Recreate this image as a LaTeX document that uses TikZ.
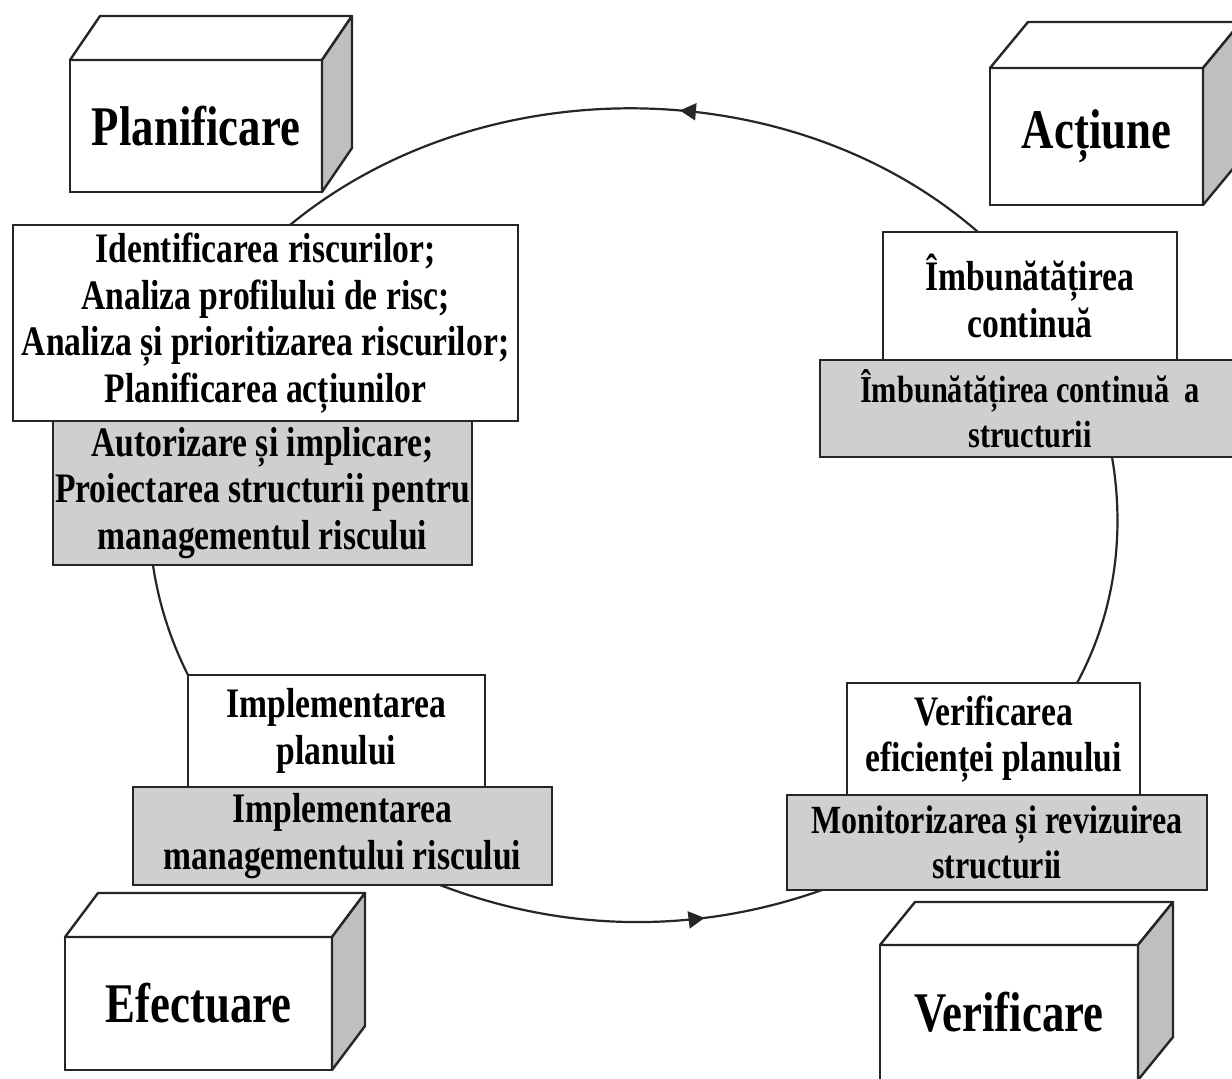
\documentclass[tikz,border=0pt]{standalone}
\usepackage{fontspec}
\setmainfont{Liberation Serif}[FakeStretch=0.8]
\usetikzlibrary{arrows.meta,decorations.markings}

\begin{document}
\begin{tikzpicture}[x=1pt,y=1pt,
  box/.style={draw=black!85,line width=2.4pt,fill=white,anchor=north west,inner sep=0pt,outer sep=0pt,align=center,font=\fontsize{42}{46.6}\selectfont\bfseries},
  gbox/.style={box,fill=black!19},
  cubefront/.style={box,font=\fontsize{56}{60}\selectfont\bfseries},
  cubetop/.style={draw=black!85,line width=2.4pt,line join=round,fill=white},
  cubeside/.style={draw=black!85,line width=2.4pt,line join=round,fill=black!25},
  loopline/.style={line width=2.2pt,black!85},
  midarrow/.style={decoration={markings,mark=at position #1 with {\arrow{Triangle[length=16pt,width=17pt]}}},postaction={decorate}}]
	\useasboundingbox (0,0) rectangle (1232,-1079);
	\clip (0,0) rectangle (1232,-1079);
	\fill[white] (0,0) rectangle (1232,-1079);
	% the four stages: name/left/top/width/height/depth x/depth y/label
	\foreach \n/\l/\t/\w/\h/\dx/\dy/\txt in {planif/70/60/252/132/30/44/Planificare, actiune/990/68/213/137/38/46/Acțiune, efect/65/937/267/133/33/44/Efectuare, verific/880/945/258/135/35/43/Verificare}{
		\node[cubefront,minimum width=\w*1pt,minimum height=\h*1pt] (\n) at (\l,-\t) {\txt};
		\draw[cubetop] (\n.north west) -- ++(\dx,\dy) -- ++(\w,0) -- (\n.north east) -- cycle;
		\draw[cubeside] (\n.north east) -- ++(\dx,\dy) -- ++(0,-\h) -- (\n.south east) -- cycle;
	}
	% text boxes
	\node[box,minimum width=505pt,minimum height=196pt] (planw) at (13,-225) {Identificarea riscurilor;\\ Analiza profilului de risc;\\ Analiza și prioritizarea riscurilor;\\ Planificarea acțiunilor};
	\node[gbox,minimum width=419pt,minimum height=144pt] (plang) at (53,-421) {Autorizare și implicare;\\ Proiectarea structurii pentru\\ managementul riscului};
	\node[box,minimum width=297pt,minimum height=112pt] (efectw) at (188,-675) {Implementarea\\ planului};
	\node[gbox,minimum width=419pt,minimum height=98pt] (efectg) at (133,-787) {Implementarea\\ managementului riscului};
	\node[box,minimum width=294pt,minimum height=128pt] (actw) at (883,-232) {Îmbunătățirea\\ continuă};
	\node[gbox,minimum width=420pt,minimum height=97pt,font=\fontsize{38}{45}\selectfont\bfseries] (actg) at (820,-360) {Îmbunătățirea continuă\ \ a\\ structurii};
	\node[box,minimum width=293pt,minimum height=112pt] (verifw) at (847,-683) {Verificarea\\ eficienței planului};
	\node[gbox,minimum width=420pt,minimum height=95pt,font=\fontsize{40}{45}\selectfont\bfseries] (verifg) at (787,-795) {Monitorizarea și revizuirea\\ structurii};
	% the cycle
	\draw[loopline,midarrow=0.44] (978,0 |- actw.north) .. controls +(139:248) and +(39.5:248) .. (290,0 |- planw.north);
	\draw[loopline] (153,0 |- plang.south) .. controls +(-81.7:38) and +(116.8:39) .. (efectw.north west);
	\draw[loopline,midarrow=0.69] (440,0 |- efectg.south) .. controls +(-21:133) and +(199.5:133) .. (822,0 |- verifg.south);
	\draw[loopline] (1077,0 |- verifw.north) .. controls +(61.6:80) and +(-80.3:78) .. (1112,0 |- actg.south);
\end{tikzpicture}
\end{document}
